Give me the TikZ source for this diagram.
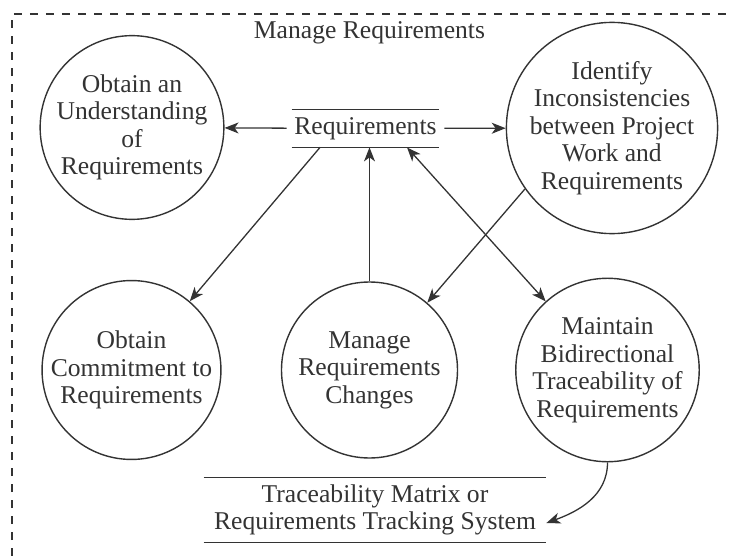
\documentclass[tikz,border=0pt]{standalone}
\usepackage{fontspec}
\setmainfont{Liberation Serif}
\usepackage{tikz}
\usetikzlibrary{arrows.meta}
\definecolor{ink}{HTML}{333333}

\begin{document}
\begin{tikzpicture}[x=0.5pt,y=-0.5pt]
\tikzstyle{every node}=[text=ink, font=\fontsize{12.8}{13.75}\selectfont, align=center];
\tikzstyle{proc}=[circle, draw=ink, line width=0.7pt, minimum size=88pt, inner sep=0pt];
\tikzstyle{store}=[inner sep=0pt];
\tikzstyle{flow}=[draw=ink, line width=0.65pt, -{Stealth[length=7pt,width=5.5pt,inset=2pt]}];

  \useasboundingbox (0,0) rectangle (733,556);
  \draw[ink, line width=0.55pt, dash pattern=on 4pt off 4pt] (12,556) -- (12,14) -- (733,14);

  \node (title) at (369.5,33) {Manage Requirements};
  \node[store, minimum width=73.5pt, minimum height=18.5pt] (req) at (365.5,128.5) {Requirements};
  \node[store, minimum width=171pt, minimum height=32pt] (trace) at (375,510) {Traceability Matrix or\\Requirements Tracking System};

  \node[proc] (c1) at (132,127.5) {Obtain an\\Understanding\\of\\Requirements};
  \node[proc, minimum size=93pt] (c2) at (612,128) {Identify\\Inconsistencies\\between Project\\Work and\\Requirements};
  \node[proc] (c3) at (131.5,370) {Obtain\\Commitment to\\Requirements};
  \node[proc] (c4) at (369.5,370) {Manage\\Requirements\\Changes};
  \node[proc] (c5) at (607.5,370) {Maintain\\Bidirectional\\Traceability of\\Requirements};

  \foreach \st in {req, trace}
\draw[ink, line width=0.85pt] (\st.north west) -- (\st.north east) (\st.south west) -- (\st.south east);

  \foreach \from/\to in {req/c1, req/c2}
\draw[flow, shorten <=2.5pt] (\from) -- (\to);

  \draw[flow] ([xshift=-22.75pt]req.south) -- (c3);
  \draw[flow] (c4) -- (c4 |- req.south);
  \draw[flow, {Stealth[length=7pt,width=5.5pt,inset=2pt]}-{Stealth[length=7pt,width=5.5pt,inset=2pt]}] ([xshift=20.75pt]req.south) -- (c5);
  \draw[flow] (c2.215) -- (c4);
  \draw[flow] (c5.south) to[out=-90, in=20] ([yshift=-6.5pt]trace.east);

\end{tikzpicture}
\end{document}
